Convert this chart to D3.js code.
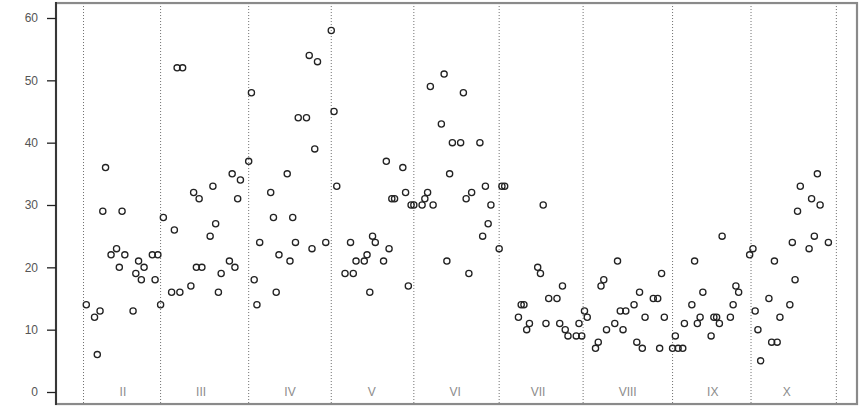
<!DOCTYPE html>
<html>
<head>
<meta charset="utf-8">
<script src="https://cdn.jsdelivr.net/npm/d3@7"></script>
<style>
  html, body { margin: 0; padding: 0; background: #fff; }
  svg { display: block; }
</style>
</head>
<body>
<svg id="chart" width="866" height="407"></svg>
<script>
// ---- data (x = day of year, y = value) ----
const obsDay = [
  32,35,36,37,38,39,41,43,44,45,46,49,50,51,52,53,56,57,58,59,
  60,63,64,65,66,67,70,71,72,73,74,77,78,79,80,81,84,85,86,87,88,91,
  92,93,94,95,99,100,101,102,105,106,107,108,109,112,113,114,115,116,119,121,122,123,
  126,128,129,130,133,134,135,136,137,140,141,142,143,144,147,148,149,150,151,
  154,155,156,157,158,161,162,163,164,165,168,169,170,171,172,175,176,177,178,179,182,183,184,
  189,190,191,192,193,196,197,198,199,200,203,204,205,206,207,210,211,212,213,214,
  217,218,219,220,221,224,225,226,227,228,231,232,233,234,235,238,239.6,240.3,241,242,
  245,246,247,248.7,249.3,252,253,254,255,256,259,260,261,262,263,266,267,268,269,273,
  274.2,275,276,277,280,281,282,283,284,287.6,288.5,289.5,290.4,291.4,294.6,295.5,296.5,297.6,298.6,301.6
];
const obsValue = [
  14,12,6,13,29,36,22,23,20,29,22,13,19,21,18,20,22,18,22,14,
  28,16,26,52,16,52,17,32,20,31,20,25,33,27,16,19,21,35,20,31,34,37,
  48,18,14,24,32,28,16,22,35,21,28,24,44,44,54,23,39,53,24,58,45,33,
  19,24,19,21,21,22,16,25,24,21,37,23,31,31,36,32,17,30,30,
  30,31,32,49,30,43,51,21,35,40,40,48,31,19,32,40,25,33,27,30,23,33,33,
  12,14,14,10,11,20,19,30,11,15,15,11,17,10,9,9,11,9,13,12,
  7,8,17,18,10,11,21,13,10,13,14,8,16,7,12,15,15,7,19,12,
  7,9,7,7,11,14,21,11,12,16,9,12,12,11,25,12,14,17,16,22,
  23,13,10,5,15,8,21,8,12,14,24,18,29,33,23,31,25,35,30,24
];
const monthStarts   = [31, 59, 91, 121, 151, 182, 212.5, 245, 273.5, 304.5];
const monthLabels   = ["II","III","IV","V","VI","VII","VIII","IX","X"];
const monthLabelDay = [45.3, 73.7, 106, 135.7, 166, 196.1, 228.7, 259.6, 286.5];
const yTicks = [0, 10, 20, 30, 40, 50, 60];
const xDomain = [21, 312];
const yDomain = [0, 60];
const yFrame  = [-1.93, 62.4];

// ---- drawing ----
const svg = d3.select("#chart");
const x = d3.scaleLinear().domain(xDomain).range([56, 857]);
const y = d3.scaleLinear().domain(yDomain).range([392, 18]);

const frameTop = y(yFrame[1]), frameBottom = y(yFrame[0]);
const frameLeft = x(xDomain[0]), frameRight = x(xDomain[1]);

// month separators
svg.append("g").selectAll("line").data(monthStarts).join("line")
  .attr("x1", d => x(d)).attr("x2", d => x(d))
  .attr("y1", frameTop).attr("y2", frameBottom)
  .attr("stroke", "#6d6d6d").attr("stroke-width", 1)
  .attr("stroke-dasharray", "1,2");

// frame
svg.append("rect")
  .attr("x", frameLeft).attr("y", frameTop)
  .attr("width", frameRight - frameLeft).attr("height", frameBottom - frameTop)
  .attr("fill", "none").attr("stroke", "#8a8a8a").attr("stroke-width", 2.2);
svg.append("line")
  .attr("x1", frameLeft).attr("x2", frameLeft).attr("y1", frameTop - 1).attr("y2", frameBottom + 1)
  .attr("stroke", "#222").attr("stroke-width", 1.6);

// y axis
const yAxis = d3.axisLeft(y).tickValues(yTicks).tickSize(9).tickPadding(9);
const gy = svg.append("g").attr("transform", `translate(${frameLeft},0)`).call(yAxis);
gy.select(".domain").remove();
gy.selectAll(".tick line").attr("stroke", "#222").attr("stroke-width", 1.3);
gy.selectAll(".tick text")
  .attr("fill", "#555")
  .style("font-family", "'Liberation Sans', Arial, sans-serif")
  .style("font-size", "12px");

// month labels
svg.append("g").selectAll("text").data(monthLabels).join("text")
  .attr("x", (d, i) => x(monthLabelDay[i]))
  .attr("y", y(0))
  .attr("dy", "0.35em")
  .attr("text-anchor", "middle")
  .attr("fill", "#8c8c8c")
  .style("font-family", "'Liberation Sans', Arial, sans-serif")
  .style("font-size", "12px")
  .text(d => d);

// points
svg.append("g").selectAll("circle").data(obsDay).join("circle")
  .attr("cx", d => x(d))
  .attr("cy", (d, i) => y(obsValue[i]))
  .attr("r", 3.1)
  .attr("fill", "none")
  .attr("stroke", "#222")
  .attr("stroke-width", 1.3);
</script>
</body>
</html>
